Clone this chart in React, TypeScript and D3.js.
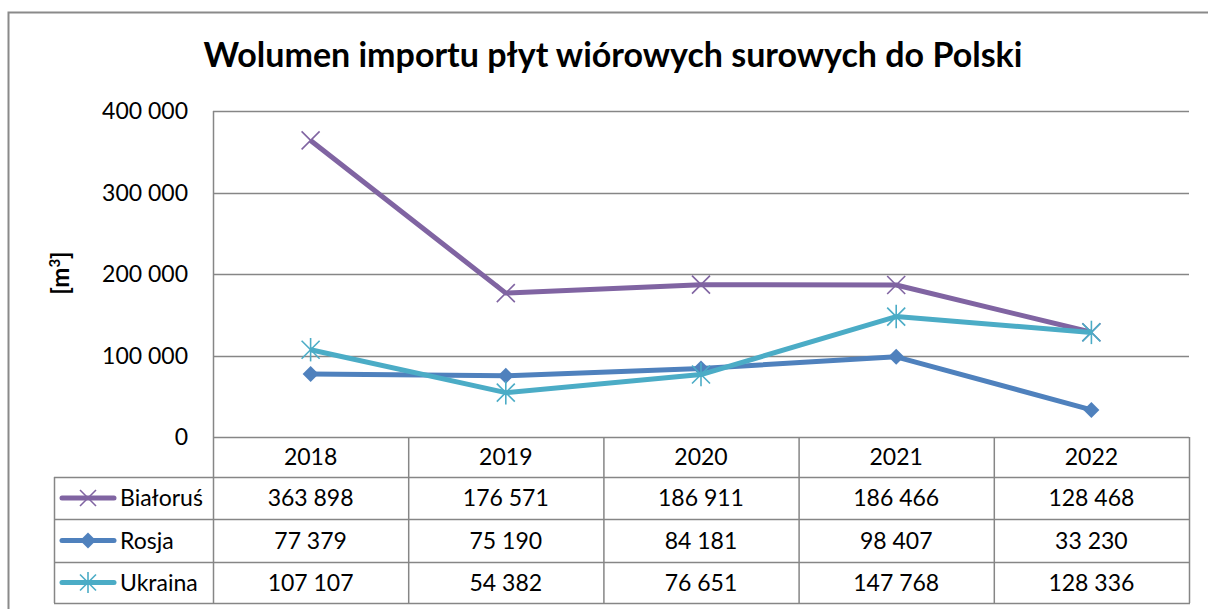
import React, { useEffect, useRef } from 'react';
import * as d3 from 'd3';

const years = ['2018', '2019', '2020', '2021', '2022'];
const seriesNames = ['Białoruś', 'Rosja', 'Ukraina'];
const bialorus = [363898, 176571, 186911, 186466, 128468];
const rosja = [77379, 75190, 84181, 98407, 33230];
const ukraina = [107107, 54382, 76651, 147768, 128336];
const yTicks = [0, 100000, 200000, 300000, 400000];
const colors = ['#8064A2', '#4F81BD', '#4BACC6'];
const markers = ['x', 'diamond', 'star'];

const fmt = (v: number) => d3.format(',')(v).replace(/,/g, ' ');

const App = () => {
  const svgRef = useRef<SVGSVGElement>(null);
  const svgWidth = 1208;
  const svgHeight = 609;
  const left = 213;
  const right = 1189;
  const top = 111;
  const bottom = 437;
  const rowH = [40, 42, 43, 41];
  const legendLeft = 54;

  useEffect(() => {
    const svg = d3.select(svgRef.current);
    svg.selectAll('*').remove();
    const font = 'Lato, Carlito, Calibri, sans-serif';
    const grid = '#868686';

    // chart frame
    svg.append('path')
      .attr('d', `M8.5,${svgHeight} V12.5 H${svgWidth}`)
      .attr('fill', 'none')
      .attr('stroke', '#8a8a8a')
      .attr('stroke-width', 2);

    svg.append('text')
      .attr('x', 613).attr('y', 67)
      .attr('text-anchor', 'middle')
      .attr('font-family', font)
      .attr('font-weight', 'bold')
      .attr('font-size', 34)
      .text('Wolumen importu płyt wiórowych surowych do Polski');

    const x = d3.scaleBand().domain(years).range([left, right]);
    const y = d3.scaleLinear().domain([0, 400000]).range([bottom, top]);

    // gridlines
    svg.append('g').selectAll('line')
      .data(yTicks)
      .enter().append('line')
      .attr('x1', left).attr('x2', right)
      .attr('y1', d => Math.round(y(d)) + 0.5)
      .attr('y2', d => Math.round(y(d)) + 0.5)
      .attr('stroke', grid).attr('stroke-width', 1.5);

    svg.append('line')
      .attr('x1', left + 0.5).attr('x2', left + 0.5)
      .attr('y1', top).attr('y2', bottom)
      .attr('stroke', grid).attr('stroke-width', 1.5);

    // y tick labels
    svg.append('g').selectAll('text')
      .data(yTicks)
      .enter().append('text')
      .attr('x', 188)
      .attr('y', d => y(d) + 8)
      .attr('text-anchor', 'end')
      .attr('font-family', font)
      .attr('font-size', 23)
      .text(d => fmt(d));

    const yt = svg.append('text')
      .attr('transform', 'translate(69,273) rotate(-90)')
      .attr('text-anchor', 'middle')
      .attr('font-family', font)
      .attr('font-weight', 'bold')
      .attr('font-size', 24);
    yt.append('tspan').text('[m');
    yt.append('tspan').attr('font-size', 15).attr('dy', -9).text('3');
    yt.append('tspan').attr('dy', 9).text(']');

    const allData = [bialorus, rosja, ukraina];
    const cx = (i: number) => (x(years[i]) as number) + x.bandwidth() / 2;

    const drawMarker = (g: any, kind: string, px: number, py: number, color: string, s: number) => {
      if (kind === 'diamond') {
        g.append('path')
          .attr('d', `M${px},${py - s} L${px + s},${py} L${px},${py + s} L${px - s},${py} Z`)
          .attr('fill', color);
      } else {
        const p = g.append('g').attr('stroke', color).attr('stroke-width', 1.6);
        p.append('line').attr('x1', px - s).attr('y1', py - s).attr('x2', px + s).attr('y2', py + s);
        p.append('line').attr('x1', px - s).attr('y1', py + s).attr('x2', px + s).attr('y2', py - s);
        if (kind === 'star') {
          p.append('line').attr('x1', px).attr('y1', py - s * 1.3).attr('x2', px).attr('y2', py + s * 1.3);
        }
      }
    };

    const line = d3.line<number>().x((d, i) => cx(i)).y(d => y(d));

    allData.forEach((vals, si) => {
      const g = svg.append('g');
      g.append('path')
        .datum(vals)
        .attr('d', line)
        .attr('fill', 'none')
        .attr('stroke', colors[si])
        .attr('stroke-width', 5)
        .attr('stroke-linejoin', 'round');
      vals.forEach((v, i) => {
        drawMarker(g, markers[si], cx(i), y(v), colors[si], markers[si] === 'diamond' ? 8 : 9);
      });
    });

    // data table
    const rowY = [bottom];
    rowH.forEach(h => rowY.push(rowY[rowY.length - 1] + h));
    const tbl = svg.append('g').attr('stroke', grid).attr('stroke-width', 1.5);
    [left, ...years.map(yr => (x(yr) as number) + x.bandwidth())].forEach(vx => {
      tbl.append('line')
        .attr('x1', vx + 0.5).attr('x2', vx + 0.5)
        .attr('y1', bottom).attr('y2', rowY[4]);
    });
    tbl.append('line')
      .attr('x1', legendLeft + 0.5).attr('x2', legendLeft + 0.5)
      .attr('y1', rowY[1]).attr('y2', rowY[4]);
    rowY.slice(1).forEach(hy => {
      tbl.append('line')
        .attr('x1', legendLeft).attr('x2', right + 1)
        .attr('y1', hy + 0.5).attr('y2', hy + 0.5);
    });

    svg.append('g').selectAll('text')
      .data(years)
      .enter().append('text')
      .attr('x', d => (x(d) as number) + x.bandwidth() / 2)
      .attr('y', (rowY[0] + rowY[1]) / 2 + 8)
      .attr('text-anchor', 'middle')
      .attr('font-family', font)
      .attr('font-size', 23)
      .text(d => d);

    allData.forEach((vals, si) => {
      const ry = (rowY[si + 1] + rowY[si + 2]) / 2;
      const g = svg.append('g');
      g.selectAll('text')
        .data(vals)
        .enter().append('text')
        .attr('x', (d, i) => cx(i))
        .attr('y', ry + 8)
        .attr('text-anchor', 'middle')
        .attr('font-family', font)
        .attr('font-size', 23)
        .text(d => fmt(d));
      g.append('line')
        .attr('x1', 62).attr('x2', 114)
        .attr('y1', ry).attr('y2', ry)
        .attr('stroke', colors[si])
        .attr('stroke-width', 5)
        .attr('stroke-linecap', 'round');
      drawMarker(g, markers[si], 88, ry, colors[si], 8);
      g.append('text')
        .attr('x', 120)
        .attr('y', ry + 8)
        .attr('font-family', font)
        .attr('font-size', 23)
        .text(seriesNames[si]);
    });
  }, []);

  return (
    <svg
      ref={svgRef}
      width={svgWidth}
      height={svgHeight}
      style={{ position: 'absolute', left: 0, top: 0, background: '#fff' }}
    />
  );
};

export default App;
